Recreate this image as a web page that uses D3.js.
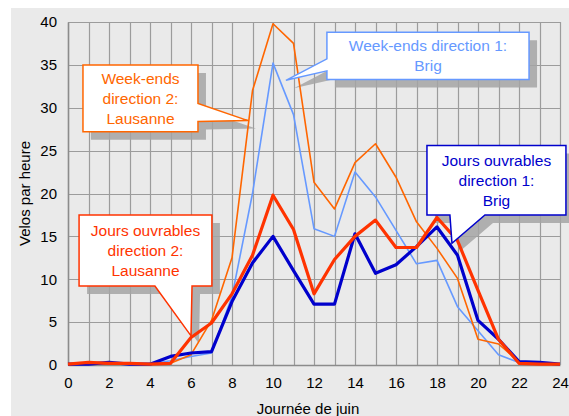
<!DOCTYPE html>
<html>
<head>
<meta charset="utf-8">
<script src="https://cdn.jsdelivr.net/npm/d3@7"></script>
<style>
  body { margin: 0; background: #fff; }
  text { font-family: "Liberation Sans", Arial, sans-serif; }
</style>
</head>
<body>
<div class="chart"></div>
<script>
// heures 0..24
var hours = d3.range(0, 25);

// Jours ouvrables direction 1: Brig
var joDir1 = [0.1, 0.1, 0.3, 0.1, 0.1, 1.0, 1.4, 1.55, 7.4, 11.9, 15.0, 11.0, 7.1, 7.1, 15.3, 10.7, 11.7, 13.8, 16.1, 12.8, 5.2, 3.0, 0.4, 0.3, 0.1];
// Jours ouvrables direction 2: Lausanne
var joDir2 = [0.1, 0.3, 0.2, 0.2, 0.1, 0.2, 3.2, 4.9, 8.3, 12.8, 19.8, 15.8, 8.3, 12.3, 15.0, 16.9, 13.7, 13.7, 17.2, 14.5, 8.7, 3.0, 0.2, 0.1, 0.1];
// Week-ends direction 1: Brig
var weDir1 = [0.1, 0.1, 0.2, 0.1, 0.1, 0.5, 1.0, 1.4, 8.0, 20.0, 35.2, 29.2, 15.9, 15.0, 22.5, 19.6, 15.7, 11.8, 12.2, 6.8, 4.0, 1.2, 0.3, 0.1, 0.1];
// Week-ends direction 2: Lausanne
var weDir2 = [0.0, 0.2, 0.1, 0.1, 0.1, 0.2, 1.2, 5.2, 12.5, 32.0, 39.8, 37.5, 21.3, 18.2, 23.6, 25.8, 21.9, 16.7, 13.6, 10.1, 3.0, 2.45, 0.4, 0.1, 0.1];

var xTicks = d3.range(0, 25, 2);
var yTicks = d3.range(0, 41, 5);

var series = [
  {name: "Week-ends direction 1: Brig", values: weDir1, color: "#6699ff", width: 1.6},
  {name: "Week-ends direction 2: Lausanne", values: weDir2, color: "#ff6600", width: 1.6},
  {name: "Jours ouvrables direction 1: Brig", values: joDir1, color: "#0000cc", width: 3.2},
  {name: "Jours ouvrables direction 2: Lausanne", values: joDir2, color: "#ff3300", width: 3.2}
];

// bulles (en unites du graphique)
var callouts = [
  {lines: ["Week-ends", "direction 2:", "Lausanne"], color: "#ff6600",
   box: [0.73, 35.0, 6.34, 27.2], side: "right", base: [30.5, 28.4], tip: [8.78, 28.5]},
  {lines: ["Week-ends direction 1:", "Brig"], color: "#6699ff",
   box: [12.63, 38.8, 22.49, 33.3], side: "left", base: [35.7, 34.3], tip: [10.63, 33.2]},
  {lines: ["Jours ouvrables", "direction 1:", "Brig"], color: "#0000cc",
   box: [17.51, 25.6, 24.29, 17.5], side: "bottom", base: [18.63, 20.34], tip: [18.73, 14.2]},
  {lines: ["Jours ouvrables", "direction 2:", "Lausanne"], color: "#ff3300",
   box: [0.54, 17.5, 7.02, 9.2], side: "bottom", base: [4.24, 6.05], tip: [6.0, 3.4]}
];

var W = 569, H = 416;
var margin = {top: 22, right: 9, bottom: 51, left: 68},
  width = W - margin.left - margin.right,
  height = H - margin.top - margin.bottom;

var svg = d3.select(".chart")
  .append("svg")
  .attr("width", W)
  .attr("height", H);

svg.append("rect")
  .attr("x", 11).attr("y", 8)
  .attr("width", W - 11).attr("height", H - 8)
  .attr("fill", "#eaeaea");

var g = svg.append("g")
  .attr("transform", "translate(" + margin.left + "," + margin.top + ")");

var x = d3.scaleLinear().domain([0, 24]).range([0, width]);
var y = d3.scaleLinear().domain([0, 40]).range([height, 0]);

// grille
g.append("g").selectAll("line")
  .data(hours)
  .enter().append("line")
  .attr("x1", function(d) { return Math.round(x(d)) + 0.5; })
  .attr("x2", function(d) { return Math.round(x(d)) + 0.5; })
  .attr("y1", 0).attr("y2", height)
  .attr("stroke", "#9c9c9c")
  .attr("stroke-width", 1.2);

g.append("g").selectAll("line")
  .data(yTicks)
  .enter().append("line")
  .attr("x1", 0).attr("x2", width)
  .attr("y1", function(d) { return Math.round(y(d)) + 0.5; })
  .attr("y2", function(d) { return Math.round(y(d)) + 0.5; })
  .attr("stroke", "#9c9c9c")
  .attr("stroke-width", 1.2);

// axes
var xAxis = g.append("g")
  .attr("transform", "translate(0," + height + ")")
  .call(d3.axisBottom(x).tickValues(xTicks).tickSize(0).tickPadding(12));
var yAxis = g.append("g")
  .call(d3.axisLeft(y).tickValues(yTicks).tickSize(0).tickPadding(11));
[xAxis, yAxis].forEach(function(a) {
  a.select(".domain").attr("stroke", "#8c8c8c").attr("stroke-width", 1.5);
  a.selectAll("text")
    .attr("font-family", "Liberation Sans, Arial, sans-serif")
    .attr("font-size", 15)
    .attr("fill", "#000");
});

svg.append("text")
  .attr("x", margin.left + x(12) - 6)
  .attr("y", 414)
  .attr("text-anchor", "middle")
  .attr("font-size", 15)
  .text("Journée de juin");

svg.append("text")
  .attr("transform", "translate(30," + (margin.top + y(20)) + ") rotate(-90)")
  .attr("text-anchor", "middle")
  .attr("font-size", 15)
  .text("Velos par heure");

// forme de bulle
function bubblePath(c) {
  var x0 = x(c.box[0]), y0 = y(c.box[1]), x1 = x(c.box[2]), y1 = y(c.box[3]);
  var tx = x(c.tip[0]), ty = y(c.tip[1]);
  var p = [];
  if (c.side == "right") {
    var a = y(c.base[0]), b = y(c.base[1]);
    p = [[x0, y0], [x1, y0], [x1, a], [tx, ty], [x1, b], [x1, y1], [x0, y1]];
  } else if (c.side == "left") {
    var a = y(c.base[0]), b = y(c.base[1]);
    p = [[x0, y0], [x1, y0], [x1, y1], [x0, y1], [x0, b], [tx, ty], [x0, a]];
  } else {
    var a = x(c.base[0]), b = x(c.base[1]);
    p = [[x0, y0], [x1, y0], [x1, y1], [b, y1], [tx, ty], [a, y1], [x0, y1]];
  }
  return "M" + p.join("L") + "Z";
}

// ombres
g.append("g").selectAll("path")
  .data(callouts)
  .enter().append("path")
  .attr("d", bubblePath)
  .attr("transform", "translate(8,8)")
  .attr("fill", "#a4a4a4")
  .attr("opacity", 0.85);

// courbes
var line = d3.line()
  .x(function(d, i) { return x(hours[i]); })
  .y(function(d) { return y(d); });

g.append("g").selectAll("path")
  .data(series)
  .enter().append("path")
  .attr("d", function(d) { return line(d.values); })
  .attr("fill", "none")
  .attr("stroke", function(d) { return d.color; })
  .attr("stroke-width", function(d) { return d.width; })
  .attr("stroke-linejoin", "round");

// bulles
var bub = g.append("g").selectAll("g")
  .data(callouts)
  .enter().append("g");

bub.append("path")
  .attr("d", bubblePath)
  .attr("fill", "#fff")
  .attr("stroke", function(d) { return d.color; })
  .attr("stroke-width", 1.5);

bub.each(function(c) {
  var cx = (x(c.box[0]) + x(c.box[2])) / 2;
  var cy = (y(c.box[1]) + y(c.box[3])) / 2;
  var n = c.lines.length, lh = 19.8;
  d3.select(this).selectAll("text")
    .data(c.lines)
    .enter().append("text")
    .attr("x", cx)
    .attr("y", function(d, i) { return cy + (i - (n - 1) / 2) * lh + 5.5; })
    .attr("text-anchor", "middle")
    .attr("font-size", 15.5)
    .attr("fill", c.color)
    .text(function(d) { return d; });
});
</script>
</body>
</html>
